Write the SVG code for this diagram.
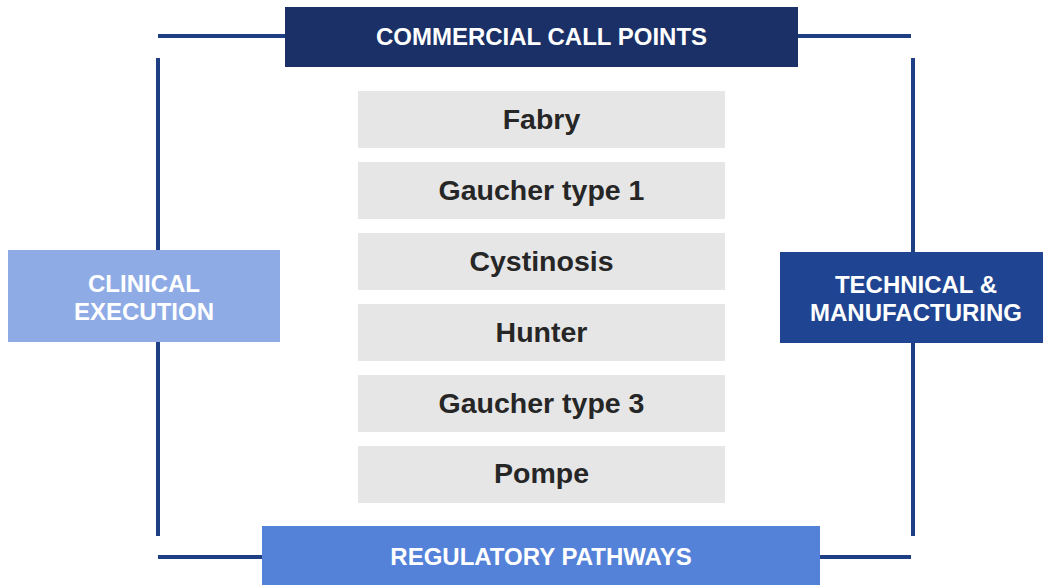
<svg xmlns="http://www.w3.org/2000/svg" width="1043" height="585" viewBox="0 0 1043 585">
  <style>
    .frame { stroke: #1f3f85; stroke-width: 4; fill: none; }
    .hdr { font-family: "Liberation Sans", Arial, sans-serif; font-weight: bold; font-size: 24px; fill: #ffffff; text-anchor: middle; }
    .item rect { fill: #e6e6e6; }
    .item text { font-family: "Liberation Sans", Arial, sans-serif; font-weight: bold; font-size: 28.5px; fill: #262626; text-anchor: middle; }
  </style>
  <rect width="1043" height="585" fill="#ffffff"/>

  <!-- frame lines linking the four side blocks -->
  <g id="connectors">
    <line class="frame" x1="158" y1="36" x2="286" y2="36"/>
    <line class="frame" x1="797" y1="36" x2="911" y2="36"/>
    <line class="frame" x1="158" y1="557" x2="263" y2="557"/>
    <line class="frame" x1="819" y1="557" x2="911" y2="557"/>
    <line class="frame" x1="158" y1="58" x2="158" y2="251"/>
    <line class="frame" x1="158" y1="342" x2="158" y2="536"/>
    <line class="frame" x1="913" y1="58" x2="913" y2="252"/>
    <line class="frame" x1="913" y1="343" x2="913" y2="536"/>
  </g>

  <g id="commercial">
    <rect x="285" y="7" width="513" height="60" fill="#1a3066"/>
    <text class="hdr" x="541.5" y="44.5">COMMERCIAL CALL POINTS</text>
  </g>

  <g id="clinical">
    <rect x="8" y="250" width="272" height="92" fill="#8eabe6"/>
    <text class="hdr" x="144" y="291.5">CLINICAL</text>
    <text class="hdr" x="144" y="320">EXECUTION</text>
  </g>

  <g id="technical">
    <rect x="780" y="252" width="263" height="91" fill="#1f4592"/>
    <text class="hdr" x="916" y="292.5">TECHNICAL &amp;</text>
    <text class="hdr" x="916" y="321">MANUFACTURING</text>
  </g>

  <g id="regulatory">
    <rect x="262" y="526" width="558" height="59" fill="#5582d9"/>
    <text class="hdr" x="541" y="564.5">REGULATORY PATHWAYS</text>
  </g>

  <g id="fabry" class="item">
    <rect x="358" y="91" width="367" height="57"/>
    <text x="541.5" y="128.5">Fabry</text>
  </g>
  <g id="gaucher1" class="item">
    <rect x="358" y="162" width="367" height="57"/>
    <text x="541.5" y="199.5">Gaucher type 1</text>
  </g>
  <g id="cystinosis" class="item">
    <rect x="358" y="233" width="367" height="57"/>
    <text x="541.5" y="270.5">Cystinosis</text>
  </g>
  <g id="hunter" class="item">
    <rect x="358" y="304" width="367" height="57"/>
    <text x="541.5" y="341.5">Hunter</text>
  </g>
  <g id="gaucher3" class="item">
    <rect x="358" y="375" width="367" height="57"/>
    <text x="541.5" y="412.5">Gaucher type 3</text>
  </g>
  <g id="pompe" class="item">
    <rect x="358" y="446" width="367" height="57"/>
    <text x="541.5" y="483">Pompe</text>
  </g>
</svg>
